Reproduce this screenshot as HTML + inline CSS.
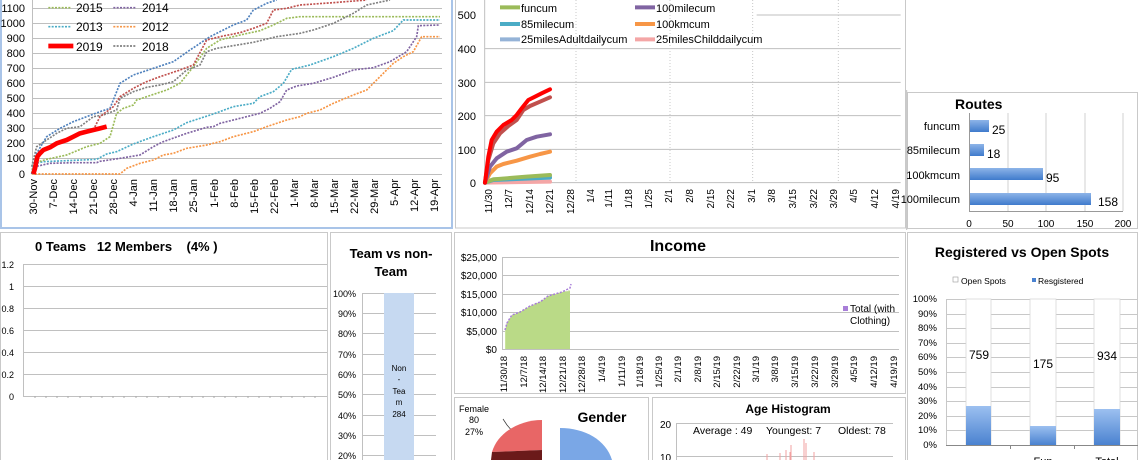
<!DOCTYPE html>
<html><head><meta charset="utf-8"><style>
html,body{margin:0;padding:0;background:#fff;}
svg{display:block;font-family:"Liberation Sans",sans-serif;}
</style></head><body>
<svg width="1140" height="460" viewBox="0 0 1140 460" xmlns="http://www.w3.org/2000/svg">
<!-- panel borders -->
<g fill="none" stroke="#c9c9c9" stroke-width="1">
<rect x="455.5" y="-2" width="450" height="230"/>
<rect x="907.5" y="92.5" width="230" height="136"/>
<rect x="0.5" y="232.5" width="327" height="240"/>
<rect x="330.5" y="232.5" width="121" height="240"/>
<rect x="454.5" y="232.5" width="451" height="161"/>
<rect x="454.5" y="397.5" width="194" height="70"/>
<rect x="652.5" y="397.5" width="253" height="70"/>
<rect x="907.5" y="232.5" width="230" height="240"/>
</g>
<rect x="1" y="-2" width="451" height="230" fill="none" stroke="#a9c4e8" stroke-width="2"/>

<!-- ========== TOP LEFT ========== -->
<g stroke="#bfbfbf" stroke-width="1">
<line x1="33" y1="8.5" x2="442" y2="8.5"/><line x1="33" y1="23.5" x2="442" y2="23.5"/>
<line x1="33" y1="38.5" x2="442" y2="38.5"/><line x1="33" y1="53.5" x2="442" y2="53.5"/>
<line x1="33" y1="68.5" x2="442" y2="68.5"/><line x1="33" y1="83.5" x2="442" y2="83.5"/>
<line x1="33" y1="98.5" x2="442" y2="98.5"/><line x1="33" y1="113.5" x2="442" y2="113.5"/>
<line x1="33" y1="128.5" x2="442" y2="128.5"/><line x1="33" y1="143.5" x2="442" y2="143.5"/>
<line x1="33" y1="158.5" x2="442" y2="158.5"/><line x1="33" y1="174.5" x2="442" y2="174.5"/>
<line x1="32.5" y1="0" x2="32.5" y2="174"/>
</g>
<g font-size="11" text-anchor="end" fill="#000">
<text x="25" y="12">1100</text><text x="25" y="27">1000</text><text x="25" y="42">900</text>
<text x="25" y="57">800</text><text x="25" y="72">700</text><text x="25" y="87">600</text>
<text x="25" y="102">500</text><text x="25" y="117">400</text><text x="25" y="132">300</text>
<text x="25" y="147">200</text><text x="25" y="162">100</text><text x="25" y="178">0</text>
</g>
<g font-size="11" text-anchor="end" fill="#000">
<text transform="translate(37,179) rotate(-90)">30-Nov</text>
<text transform="translate(57,179) rotate(-90)">7-Dec</text>
<text transform="translate(77,179) rotate(-90)">14-Dec</text>
<text transform="translate(97,179) rotate(-90)">21-Dec</text>
<text transform="translate(117,179) rotate(-90)">28-Dec</text>
<text transform="translate(137,179) rotate(-90)">4-Jan</text>
<text transform="translate(157,179) rotate(-90)">11-Jan</text>
<text transform="translate(177,179) rotate(-90)">18-Jan</text>
<text transform="translate(197,179) rotate(-90)">25-Jan</text>
<text transform="translate(218,179) rotate(-90)">1-Feb</text>
<text transform="translate(238,179) rotate(-90)">8-Feb</text>
<text transform="translate(258,179) rotate(-90)">15-Feb</text>
<text transform="translate(278,179) rotate(-90)">22-Feb</text>
<text transform="translate(298,179) rotate(-90)">1-Mar</text>
<text transform="translate(318,179) rotate(-90)">8-Mar</text>
<text transform="translate(338,179) rotate(-90)">15-Mar</text>
<text transform="translate(358,179) rotate(-90)">22-Mar</text>
<text transform="translate(378,179) rotate(-90)">29-Mar</text>
<text transform="translate(398,179) rotate(-90)">5-Apr</text>
<text transform="translate(418,179) rotate(-90)">12-Apr</text>
<text transform="translate(438,179) rotate(-90)">19-Apr</text>
</g>
<g transform="scale(0.33333)" fill="none" stroke-dasharray="6 4" stroke-width="5">
<polyline stroke="#4bacc6" points="95,522 105,490 130,485 290,478 320,462 350,455 400,432 460,410 520,390 560,368 600,355 640,342 700,320 760,310 780,290 820,275 850,250 875,208 930,195 1000,170 1060,145 1120,115 1180,92 1210,60 1320,60"/>
<polyline stroke="#8064a2" points="95,522 105,500 150,490 220,488 290,488 300,484 360,475 420,465 460,440 490,425 560,400 620,382 640,380 660,370 720,355 780,340 810,325 840,305 860,270 890,258 940,250 1000,232 1060,210 1120,203 1170,185 1220,155 1250,110 1255,77 1320,75"/>
<polyline stroke="#f79646" points="95,522 360,522 380,505 420,490 460,480 490,465 520,460 560,445 620,435 660,425 700,410 760,395 800,380 860,360 900,350 920,340 960,330 1000,310 1060,285 1100,270 1130,240 1180,190 1210,170 1240,155 1265,110 1320,110"/>
<polyline stroke="#9bbb59" points="95,520 100,490 140,478 200,465 260,440 300,430 330,410 350,340 370,325 400,315 410,300 440,290 500,270 540,250 580,200 620,145 660,120 720,105 780,92 820,75 860,55 900,50 1320,50"/>
<polyline stroke="#808080" points="95,500 110,440 140,420 170,400 200,385 240,380 280,350 310,345 350,330 360,295 400,275 440,262 480,255 520,245 560,210 600,195 620,155 650,145 700,137 760,127 830,110 900,100 940,90 1000,70 1060,40 1100,15 1170,0"/>
<polyline stroke="#4f81bd" points="95,522 110,460 140,410 180,385 220,365 260,350 300,335 330,325 360,250 400,225 460,205 520,185 570,150 600,130 630,110 660,95 700,75 740,60 760,30 800,10 830,0"/>
<polyline stroke="#c0504d" points="280,390 300,350 340,320 360,290 400,265 440,245 480,230 540,210 580,195 620,120 660,110 720,98 760,85 800,70 820,30 860,25 900,15 1000,8 1100,0"/>
<polyline stroke="#ff0000" stroke-dasharray="none" stroke-width="14" stroke-linejoin="round" points="100,522 105,505 112,470 120,460 130,450 150,442 170,430 200,420 220,410 240,400 260,395 280,390 300,385 320,380"/>
<g stroke-width="5">
<line x1="145" y1="23" x2="215" y2="23" stroke="#9bbb59"/>
<line x1="340" y1="23" x2="410" y2="23" stroke="#8064a2"/>
<line x1="145" y1="80" x2="215" y2="80" stroke="#4bacc6"/>
<line x1="340" y1="80" x2="410" y2="80" stroke="#f79646"/>
<line x1="145" y1="138" x2="220" y2="138" stroke="#ff0000" stroke-width="14" stroke-dasharray="none"/>
<line x1="340" y1="138" x2="410" y2="138" stroke="#808080"/>
</g>
</g>
<g font-size="12" fill="#000">
<text x="76" y="12">2015</text><text x="142" y="12">2014</text>
<text x="76" y="31">2013</text><text x="142" y="31">2012</text>
<text x="76" y="51">2019</text><text x="142" y="51">2018</text>
</g>

<!-- ========== TOP MIDDLE ========== -->
<g transform="translate(450,0) scale(0.33333)">
<g stroke="#bfbfbf" stroke-width="3" fill="none">
<line x1="920" y1="45" x2="1352" y2="45"/>
<line x1="105" y1="146" x2="1352" y2="146"/>
<line x1="105" y1="247" x2="1352" y2="247"/>
<line x1="105" y1="347" x2="1352" y2="347"/>
<line x1="105" y1="448" x2="1352" y2="448"/>
<line x1="105" y1="548" x2="1352" y2="548"/>
<line x1="104" y1="0" x2="104" y2="548"/>
<line x1="1370" y1="270" x2="1370" y2="690"/>
</g>
<g stroke="#c8c8c8" stroke-width="3" stroke-dasharray="3 6">
<line x1="378" y1="0" x2="378" y2="548"/>
<line x1="660" y1="0" x2="660" y2="548"/>
<line x1="908" y1="0" x2="908" y2="548"/>
<line x1="1165" y1="0" x2="1165" y2="548"/>
</g>
<g fill="none" stroke-width="12" stroke-linejoin="round" stroke-linecap="round">
<polyline stroke="#f4a6a6" points="105,548 300,545"/>
<polyline stroke="#95b3d7" points="105,548 130,538 200,535 300,530"/>
<polyline stroke="#4bacc6" points="105,548 130,540 200,537 300,533"/>
<polyline stroke="#9bbb59" points="105,548 130,538 230,530 300,525"/>
<polyline stroke="#f79646" points="105,548 120,520 140,500 160,492 200,482 240,470 270,462 300,455"/>
<polyline stroke="#8064a2" points="105,548 120,500 140,475 170,455 200,445 230,420 260,410 300,403"/>
<polyline stroke="#c0504d" points="105,548 115,480 130,430 150,400 175,378 200,360 220,330 240,318 270,305 300,292"/>
<polyline stroke="#ff0000" points="105,548 115,470 125,420 140,395 160,375 185,360 200,345 215,325 235,300 255,290 275,280 300,268"/>
<g stroke-linecap="butt">
<line x1="150" y1="22" x2="210" y2="22" stroke="#9bbb59"/>
<line x1="555" y1="22" x2="615" y2="22" stroke="#8064a2"/>
<line x1="150" y1="72" x2="210" y2="72" stroke="#4bacc6"/>
<line x1="555" y1="72" x2="615" y2="72" stroke="#f79646"/>
<line x1="150" y1="118" x2="210" y2="118" stroke="#95b3d7"/>
<line x1="555" y1="118" x2="615" y2="118" stroke="#f4a6a6"/>
</g>
</g>
</g>
<g font-size="11" fill="#000">
<text x="521" y="12">funcum</text><text x="656" y="12">100milecum</text>
<text x="521" y="28">85milecum</text><text x="656" y="28">100kmcum</text>
<text x="521" y="43">25milesAdultdailycum</text><text x="656" y="43">25milesChilddailycum</text>
</g>
<g font-size="11" text-anchor="end">
<text x="476" y="19">500</text><text x="476" y="53">400</text><text x="476" y="87">300</text>
<text x="476" y="120">200</text><text x="476" y="154">100</text><text x="476" y="187">0</text>
</g>
<g font-size="10" text-anchor="end">
<text transform="translate(492,189) rotate(-90)">11/30</text>
<text transform="translate(512,189) rotate(-90)">12/7</text>
<text transform="translate(533,189) rotate(-90)">12/14</text>
<text transform="translate(553,189) rotate(-90)">12/21</text>
<text transform="translate(574,189) rotate(-90)">12/28</text>
<text transform="translate(594,189) rotate(-90)">1/4</text>
<text transform="translate(612,189) rotate(-90)">1/11</text>
<text transform="translate(632,189) rotate(-90)">1/18</text>
<text transform="translate(652,189) rotate(-90)">1/25</text>
<text transform="translate(672,189) rotate(-90)">2/1</text>
<text transform="translate(693,189) rotate(-90)">2/8</text>
<text transform="translate(714,189) rotate(-90)">2/15</text>
<text transform="translate(734,189) rotate(-90)">2/22</text>
<text transform="translate(755,189) rotate(-90)">3/1</text>
<text transform="translate(775,189) rotate(-90)">3/8</text>
<text transform="translate(796,189) rotate(-90)">3/15</text>
<text transform="translate(817,189) rotate(-90)">3/22</text>
<text transform="translate(837,189) rotate(-90)">3/29</text>
<text transform="translate(857,189) rotate(-90)">4/5</text>
<text transform="translate(878,189) rotate(-90)">4/12</text>
<text transform="translate(899,189) rotate(-90)">4/19</text>
</g>

<!-- ========== ROUTES ========== -->
<text x="955" y="109" font-size="14" font-weight="bold">Routes</text>
<g stroke="#d0d0d0"><line x1="1008" y1="113" x2="1008" y2="211"/><line x1="1046" y1="113" x2="1046" y2="211"/><line x1="1085" y1="113" x2="1085" y2="211"/><line x1="1123" y1="113" x2="1123" y2="211"/></g>
<line x1="969.5" y1="113" x2="969.5" y2="211" stroke="#999"/>
<line x1="969" y1="211.5" x2="1123" y2="211.5" stroke="#999"/>
<defs><linearGradient id="bg" x1="0" y1="0" x2="0" y2="1"><stop offset="0" stop-color="#8db4e8"/><stop offset="1" stop-color="#3f7bcc"/></linearGradient>
<linearGradient id="bgv" x1="0" y1="0" x2="0" y2="1"><stop offset="0" stop-color="#9cc0f0"/><stop offset="1" stop-color="#4a82d0"/></linearGradient></defs>
<rect x="970" y="120" width="19" height="12" fill="url(#bg)"/>
<rect x="970" y="144" width="14" height="12" fill="url(#bg)"/>
<rect x="970" y="168" width="73" height="12" fill="url(#bg)"/>
<rect x="970" y="193" width="121" height="12" fill="url(#bg)"/>
<g font-size="11" text-anchor="end"><text x="960" y="130">funcum</text><text x="960" y="154">85milecum</text><text x="960" y="179">100kmcum</text><text x="960" y="203">100milecum</text></g>
<g font-size="12"><text x="992" y="134">25</text><text x="987" y="158">18</text><text x="1046" y="182">95</text><text x="1098" y="206">158</text></g>
<g font-size="10" text-anchor="middle"><text x="969" y="227">0</text><text x="1008" y="227">50</text><text x="1046" y="227">100</text><text x="1085" y="227">150</text><text x="1123" y="227">200</text></g>

<!-- ========== TEAMS ========== -->
<text x="35" y="251" font-size="13" font-weight="bold" xml:space="preserve">0 Teams   12 Members    (4% )</text>
<g stroke="#c0c0c0"><line x1="23" y1="264.5" x2="327" y2="264.5"/><line x1="23" y1="286.5" x2="327" y2="286.5"/><line x1="23" y1="308.5" x2="327" y2="308.5"/><line x1="23" y1="330.5" x2="327" y2="330.5"/><line x1="23" y1="352.5" x2="327" y2="352.5"/><line x1="23" y1="374.5" x2="327" y2="374.5"/><line x1="23" y1="396.5" x2="327" y2="396.5"/><line x1="23.5" y1="264" x2="23.5" y2="396"/></g>
<g stroke="#aaa"><path d="M35 396v2M46 396v2M57 396v2M68 396v2M80 396v2M91 396v2M102 396v2M113 396v2M124 396v2M136 396v2M147 396v2M158 396v2M169 396v2M180 396v2M192 396v2M203 396v2M214 396v2M225 396v2M236 396v2M248 396v2M259 396v2M270 396v2M281 396v2M292 396v2M304 396v2M315 396v2"/></g>
<g font-size="9" text-anchor="end"><text x="14" y="268">1.2</text><text x="14" y="290">1</text><text x="14" y="312">0.8</text><text x="14" y="334">0.6</text><text x="14" y="356">0.4</text><text x="14" y="378">0.2</text><text x="14" y="400">0</text></g>

<text x="391" y="258" font-size="13" font-weight="bold" text-anchor="middle">Team vs non-</text>
<text x="391" y="276" font-size="13" font-weight="bold" text-anchor="middle">Team</text>
<g stroke="#c0c0c0"><line x1="362" y1="293.5" x2="436" y2="293.5"/><line x1="362" y1="313.5" x2="436" y2="313.5"/><line x1="362" y1="333.5" x2="436" y2="333.5"/><line x1="362" y1="354.5" x2="436" y2="354.5"/><line x1="362" y1="374.5" x2="436" y2="374.5"/><line x1="362" y1="394.5" x2="436" y2="394.5"/><line x1="362" y1="415.5" x2="436" y2="415.5"/><line x1="362" y1="435.5" x2="436" y2="435.5"/><line x1="362" y1="455.5" x2="436" y2="455.5"/><line x1="362.5" y1="293" x2="362.5" y2="460"/></g>
<rect x="384" y="293" width="30" height="170" fill="#c6d9f1"/>
<g font-size="9" text-anchor="end"><text x="356" y="297">100%</text><text x="356" y="317">90%</text><text x="356" y="337">80%</text><text x="356" y="358">70%</text><text x="356" y="378">60%</text><text x="356" y="398">50%</text><text x="356" y="419">40%</text><text x="356" y="439">30%</text><text x="356" y="459">20%</text></g>
<g font-size="8" text-anchor="middle"><text x="399" y="371">Non</text><text x="399" y="382">-</text><text x="399" y="394">Tea</text><text x="399" y="405">m</text><text x="399" y="417">284</text></g>

<!-- ========== INCOME ========== -->
<text x="678" y="251" font-size="16" font-weight="bold" text-anchor="middle">Income</text>
<g stroke="#c0c0c0"><line x1="502" y1="257.5" x2="899" y2="257.5"/><line x1="502" y1="275.5" x2="899" y2="275.5"/><line x1="502" y1="294.5" x2="899" y2="294.5"/><line x1="502" y1="312.5" x2="899" y2="312.5"/><line x1="502" y1="331.5" x2="899" y2="331.5"/><line x1="502" y1="349.5" x2="899" y2="349.5"/><line x1="502.5" y1="257" x2="502.5" y2="349"/></g>
<g font-size="10" text-anchor="end"><text x="497" y="261">$25,000</text><text x="497" y="279">$20,000</text><text x="497" y="298">$15,000</text><text x="497" y="316">$10,000</text><text x="497" y="335">$5,000</text><text x="497" y="353">$0</text></g>
<path d="M505 349L505 330L507 323L510 318L512 315L520 312L530 306L540 302L548 296L555 294L562 292L570 291L570 349Z" fill="#c8e39a"/>
<g stroke="#9cc45c" stroke-width="0.6"><path d="M507 349V323M509 349V320M511 349V316M513 349V315M515 349V314M517 349V313M519 349V312M521 349V311M523 349V310M525 349V309M527 349V308M529 349V307M531 349V306M533 349V305M535 349V304M537 349V303M539 349V302M541 349V301M543 349V300M545 349V299M547 349V297M549 349V296M551 349V295M553 349V294M555 349V294M557 349V293M559 349V293M561 349V292M563 349V292M565 349V291M567 349V291M569 349V290"/></g>
<path d="M505 330L507 323L510 318L512 315L520 312L530 306L540 302L548 296L555 294L562 292L570 288L571 284" fill="none" stroke="#a87ed8" stroke-width="1.5" stroke-dasharray="2 1.5"/>
<rect x="843" y="306" width="5" height="5" fill="#a87ed8"/>
<g font-size="10"><text x="850" y="312">Total (with</text><text x="850" y="324">Clothing)</text></g>
<g font-size="9.5" text-anchor="end">
<text transform="translate(507,356) rotate(-90)">11/30/18</text>
<text transform="translate(527,356) rotate(-90)">12/7/18</text>
<text transform="translate(546,356) rotate(-90)">12/14/18</text>
<text transform="translate(566,356) rotate(-90)">12/21/18</text>
<text transform="translate(585,356) rotate(-90)">12/28/18</text>
<text transform="translate(605,356) rotate(-90)">1/4/19</text>
<text transform="translate(625,356) rotate(-90)">1/11/19</text>
<text transform="translate(643,356) rotate(-90)">1/18/19</text>
<text transform="translate(662,356) rotate(-90)">1/25/19</text>
<text transform="translate(681,356) rotate(-90)">2/1/19</text>
<text transform="translate(701,356) rotate(-90)">2/8/19</text>
<text transform="translate(720,356) rotate(-90)">2/15/19</text>
<text transform="translate(740,356) rotate(-90)">2/22/19</text>
<text transform="translate(759,356) rotate(-90)">3/1/19</text>
<text transform="translate(778,356) rotate(-90)">3/8/19</text>
<text transform="translate(798,356) rotate(-90)">3/15/19</text>
<text transform="translate(818,356) rotate(-90)">3/22/19</text>
<text transform="translate(838,356) rotate(-90)">3/29/19</text>
<text transform="translate(857,356) rotate(-90)">4/5/19</text>
<text transform="translate(877,356) rotate(-90)">4/12/19</text>
<text transform="translate(897,356) rotate(-90)">4/19/19</text>
</g>

<!-- ========== GENDER ========== -->
<text x="602" y="422" font-size="14" font-weight="bold" text-anchor="middle">Gender</text>
<g font-size="9" text-anchor="middle"><text x="474" y="412">Female</text><text x="474" y="423">80</text><text x="474" y="435">27%</text></g>
<path d="M503 419L507 425L513 432" fill="none" stroke="#333" stroke-width="0.7"/>
<path d="M542 420C520 420 498 432 492 452L542 450Z" fill="#e86666"/>
<path d="M492 452L542 450L542 460L491 460Z" fill="#6b1a1a"/>
<path d="M560 428C585 428 606 440 612 460L560 460Z" fill="#7aa7e6"/>

<!-- ========== AGE ========== -->
<text x="788" y="413" font-size="12" font-weight="bold" text-anchor="middle">Age Histogram</text>
<text x="660" y="428" font-size="10">20</text>
<text x="660" y="461" font-size="10">10</text>
<line x1="676" y1="423.5" x2="893" y2="423.5" stroke="#c0c0c0"/>
<line x1="676" y1="456.5" x2="893" y2="456.5" stroke="#c0c0c0"/>
<line x1="676.5" y1="423" x2="676.5" y2="460" stroke="#c0c0c0"/>
<g font-size="10.5"><text x="693" y="434">Average : 49</text><text x="766" y="434">Youngest: 7</text><text x="838" y="434">Oldest: 78</text></g>
<g stroke="#f2a0a0" stroke-width="1"><path d="M767 460V454M780 460V453M786 460V450M791 460V445M804 460V439M806 460V443M814 460V452M790 460V452"/></g>

<!-- ========== REGISTERED ========== -->
<text x="1022" y="257" font-size="14" font-weight="bold" text-anchor="middle">Registered vs Open Spots</text>
<rect x="953" y="277" width="5" height="5" fill="#fff" stroke="#999" stroke-width="0.6"/>
<text x="961" y="284" font-size="8.5">Open Spots</text>
<rect x="1032" y="278" width="4" height="4" fill="#4a82d0"/>
<text x="1038" y="284" font-size="8.5">Resgistered</text>
<g stroke="#c8c8c8"><line x1="946" y1="299.5" x2="1138" y2="299.5"/><line x1="946" y1="314.5" x2="1138" y2="314.5"/><line x1="946" y1="328.5" x2="1138" y2="328.5"/><line x1="946" y1="343.5" x2="1138" y2="343.5"/><line x1="946" y1="357.5" x2="1138" y2="357.5"/><line x1="946" y1="372.5" x2="1138" y2="372.5"/><line x1="946" y1="387.5" x2="1138" y2="387.5"/><line x1="946" y1="401.5" x2="1138" y2="401.5"/><line x1="946" y1="416.5" x2="1138" y2="416.5"/><line x1="946" y1="430.5" x2="1138" y2="430.5"/><line x1="946.5" y1="299" x2="946.5" y2="445"/></g>
<g fill="#fff" stroke="#d8d8d8" stroke-width="0.8"><rect x="966" y="299" width="25" height="146"/><rect x="1030" y="299" width="26" height="146"/><rect x="1094" y="299" width="26" height="146"/></g>
<rect x="966" y="406" width="25" height="39" fill="url(#bgv)"/>
<rect x="1030" y="426" width="26" height="19" fill="url(#bgv)"/>
<rect x="1094" y="409" width="26" height="36" fill="url(#bgv)"/>
<line x1="946" y1="445.5" x2="1138" y2="445.5" stroke="#888"/>
<g stroke="#888"><line x1="1010.5" y1="445" x2="1010.5" y2="449"/><line x1="1074.5" y1="445" x2="1074.5" y2="449"/></g>
<g font-size="12" text-anchor="middle"><text x="979" y="359">759</text><text x="1043" y="368">175</text><text x="1107" y="360">934</text></g>
<g font-size="9.5" text-anchor="end"><text x="937" y="302">100%</text><text x="937" y="317">90%</text><text x="937" y="331">80%</text><text x="937" y="346">70%</text><text x="937" y="360">60%</text><text x="937" y="375">50%</text><text x="937" y="390">40%</text><text x="937" y="404">30%</text><text x="937" y="419">20%</text><text x="937" y="433">10%</text><text x="937" y="448">0%</text></g>
<g font-size="11" text-anchor="middle"><text x="1043" y="465">Fun</text><text x="1107" y="465">Total</text></g>
</svg>
</body></html>
